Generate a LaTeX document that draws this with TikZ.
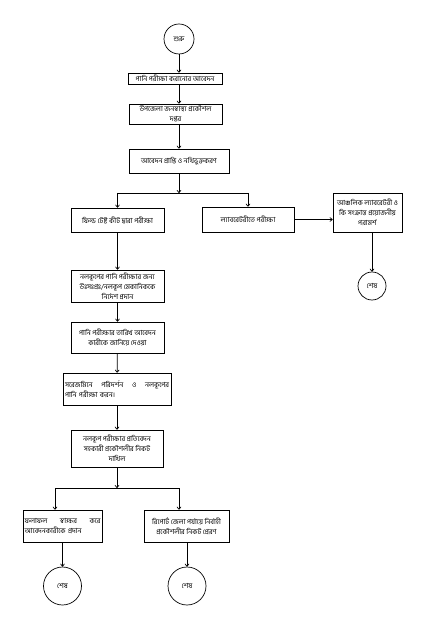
\documentclass[tikz,border=0pt]{standalone}
\usepackage{fontspec}
\newfontfamily\bn[Script=Bengali]{Hind Siliguri}
\usetikzlibrary{arrows.meta}
\begin{document}
\begin{tikzpicture}[x=1pt,y=-1pt,
  box/.style={draw, line width=0.7pt, inner sep=1.5pt, align=center, font=\bn\fontsize{7}{10}\selectfont},
  term/.style={draw, circle, line width=0.7pt, inner sep=0pt, font=\bn\fontsize{7}{8}\selectfont},
  arr/.style={-{To[length=3pt,width=4.5pt]}, line width=0.7pt},
  ln/.style={line width=0.7pt}]
\useasboundingbox (0,0) rectangle (425,644);
\fill[white] (0,0) rectangle (425,644);

\node[term, minimum size=30pt] (s) at (179,39) {শুরু};
\node[box, minimum width=94pt, minimum height=11pt, inner sep=0.5pt] (b1) at (175,78.5) {পানি পরীক্ষা করানোর আবেদন};
\node[box, minimum width=93pt, minimum height=20pt, inner sep=0.5pt] (b2) at (175.5,114) {উপজেলা জনস্বাস্থ্য প্রকৌশল\\দপ্তর};
\node[box, minimum width=100pt, minimum height=24pt] (b3) at (179,161) {আবেদন প্রাপ্তি ও নথিভুক্তকরণ};
\node[box, minimum width=93pt, minimum height=24pt] (b4) at (117.5,220) {ফিল্ড টেষ্ট কীট দ্বারা পরীক্ষা};
\node[box, minimum width=92pt, minimum height=25pt] (b5) at (248,219.5) {ল্যাবরেটরীতে পরীক্ষা};
\node[box, minimum width=69pt, minimum height=39pt] (b6) at (367.5,212.5) {আঞ্চলিক ল্যাবরেটরী ও\\কি সংক্রান্ত প্রয়োজনীয়\\পরামর্শ};
\node[term, minimum size=28pt] (e1) at (372,286) {শেষ};
\node[box, minimum width=93pt, minimum height=32pt] (b7) at (117.5,286) {নলকূপের পানি পরীক্ষার জন্য\\উঃসঃপ্রঃ/নলকূপ মেকানিককে\\নির্দেশ প্রদান};
\node[box, minimum width=93pt, minimum height=31pt] (b8) at (117.5,337.5) {পানি পরীক্ষার তারিখ আবেদন\\কারীকে জানিয়ে দেওয়া};
\node[box, minimum width=108pt, minimum height=32pt, text width=104pt, align=left] (b9) at (117,389) {সরেজমিনে\hfill পরিদর্শন\hfill ও\hfill নলকূপের\\পানি পরীক্ষা করন।};
\node[box, minimum width=92pt, minimum height=37pt] (b10) at (117,448.5) {নলকূপ পরীক্ষার প্রতিবেদন\\সহকারী প্রকৌশলীর নিকট\\দাখিল};
\node[box, minimum width=79pt, minimum height=32pt, text width=76pt, align=left] (b11) at (62.5,526) {ফলাফল\hfill স্বাক্ষর\hfill করে\\আবেদনকারীকে প্রদান};
\node[box, minimum width=85pt, minimum height=32pt] (b12) at (186.5,526) {রিপোর্ট জেলা পর্যায়ে নির্বাহী\\প্রকৌশলীর নিকট প্রেরণ};
\node[term, minimum size=38pt] (e2) at (62.5,586) {শেষ};
\node[term, minimum size=38pt] (e3) at (187,586) {শেষ};

\coordinate (j1) at (179,193);
\coordinate (j1l) at (117.5,193);
\coordinate (j1r) at (248,193);
\coordinate (j2) at (117,488);
\coordinate (j2l) at (55,488);
\coordinate (j2r) at (179,488);

\draw[arr] (s) -- (s |- b1.north);
\draw[arr] (s |- b1.south) -- (s |- b2.north);
\draw[arr] (s |- b2.south) -- (b3.north);
\draw[arr] (b3) -- (j1);
\draw[ln] (j1l) -- (j1r);
\draw[arr] (j1l) -- (b4.north);
\draw[arr] (j1r) -- (b5.north);
\draw[arr] (b5.east) -- (b5.east -| b6.west);
\draw[arr] (e1 |- b6.south) -- (e1);
\draw[arr] (b4) -- (b7);
\draw[arr] (b7) -- (b8);
\draw[arr] (b8) -- (b9);
\draw[arr] (b9) -- (b10);
\draw[arr] (b10) -- (j2);
\draw[ln] (j2l) -- (j2r);
\draw[arr] (j2l) -- (j2l |- b11.north);
\draw[arr] (j2r) -- (j2r |- b12.north);
\draw[arr] (e2 |- b11.south) -- (e2);
\draw[arr] (e3 |- b12.south) -- (e3);
\end{tikzpicture}
\end{document}
